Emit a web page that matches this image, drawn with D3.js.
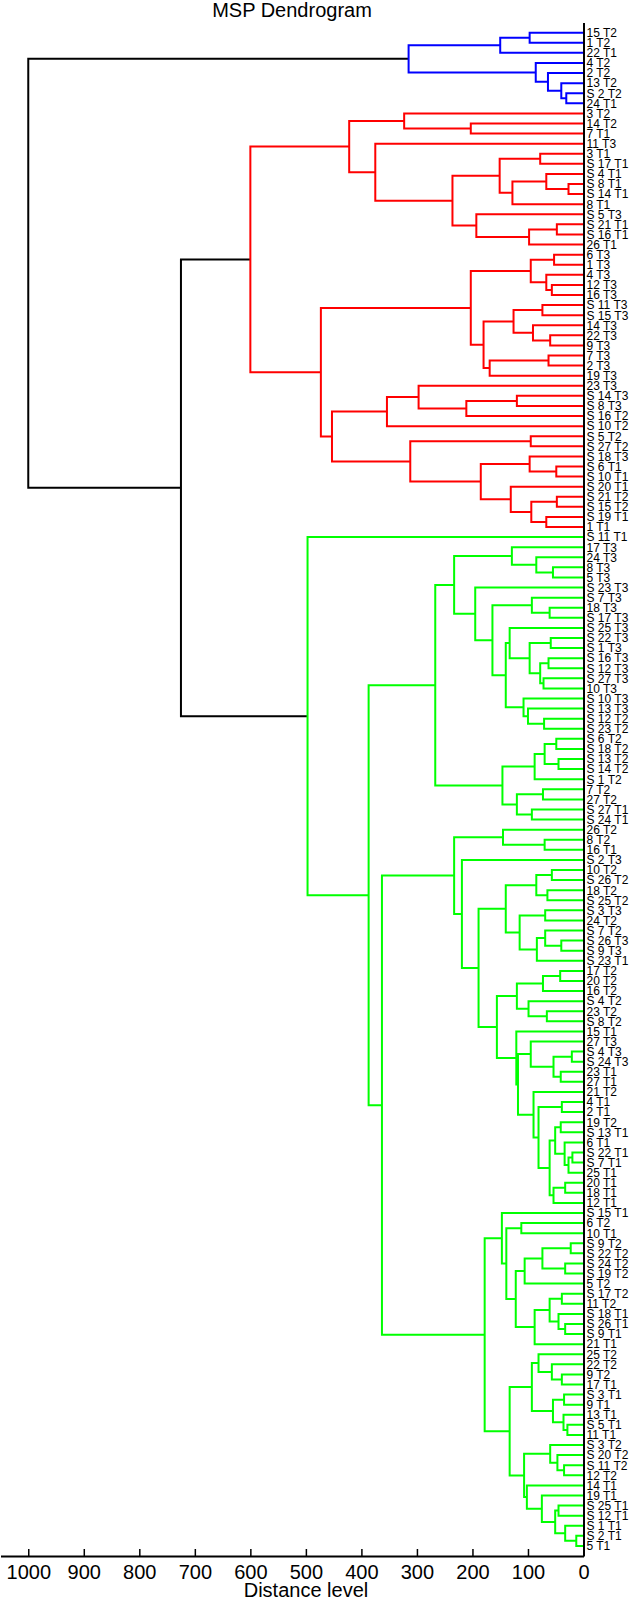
<!DOCTYPE html>
<html>
<head>
<meta charset="utf-8">
<script src="https://cdn.jsdelivr.net/npm/d3@7"></script>
<style>
body { margin: 0; background: #fff; }
svg { display: block; font-family: Arial, "Liberation Sans", sans-serif; }
</style>
</head>
<body>
<svg id="chart" width="631" height="1600"></svg>
<script>
// every merge is [left, right, distance]; a leaf is just its label
var blueTree = [[["15 T2", "1 T2", 97], "22 T1", 150],
    ["4 T2", ["2 T2", ["13 T2", ["S 2 T2", "24 T1", 31], 40], 64], 86], 315];

// red cluster
var redTop = [["3 T2", ["14 T2", "7 T1", 203], 323],
    ["11 T3", [
        [["3 T1", "S 17 T1", 78], [["S 4 T1", ["S 8 T1", "S 14 T1", 27], 67], "8 T1", 128], 151],
        ["S 5 T3", [["S 21 T1", "S 16 T1", 48], "26 T1", 98], 193], 236], 375], 422];
var redT3 = [[["6 T3", "1 T3", 53], ["4 T3", ["12 T3", "16 T3", 57], 67], 95],
    [[["S 11 T3", "S 15 T3", 74], ["14 T3", ["22 T3", "9 T3", 60], 91], 126],
     [["7 T3", "2 T3", 63], "19 T3", 169], 180], 203];
var redLow = [[["23 T3", [["S 14 T3", "S 8 T3", 120], "S 16 T2", 211], 297], "S 10 T2", 354],
    [["S 5 T2", "S 27 T2", 95],
     [["S 18 T3", ["S 6 T1", "S 10 T1", 49], 97],
      ["S 20 T1", [["S 21 T2", "S 15 T2", 48], ["S 19 T1", "1 T1", 67], 94], 131], 185], 312], 453];
var redTree = [redTop, [redT3, redLow, 473], 600];

// green cluster
var greenT3 = [["17 T3", ["24 T3", ["8 T3", "5 T3", 55], 85], 129],
    ["S 23 T3", [["S 7 T3", ["18 T3", "S 17 T3", 61], 93],
        [["S 25 T3", [["S 22 T3", "S 1 T3", 59], [["S 16 T3", "S 12 T3", 63], ["S 27 T3", "10 T3", 72], 78], 97], 133],
         ["S 10 T3", ["S 13 T3", ["S 12 T2", "S 23 T2", 71], 100], 108], 140], 164], 195], 233];
var greenT2 = [[[["S 6 T2", "S 18 T2", 49], ["S 13 T2", "S 14 T2", 45], 70], "S 1 T2", 88],
    [["7 T2", "27 T2", 73], ["S 27 T1", "S 24 T1", 93], 120], 146];
var greenMid = [["26 T2", ["8 T2", "16 T1", 70], 145],
    ["S 2 T3", [
        [[["10 T2", "S 26 T2", 57], ["18 T2", "S 25 T2", 65], 85],
         [["S 3 T3", "24 T2", 69], [["S 7 T2", ["S 26 T3", "S 9 T3", 40], 69], "S 23 T1", 84], 115], 140],
        [[[["17 T2", "20 T2", 42], "16 T2", 73], ["S 4 T2", ["23 T2", "S 8 T2", 66], 99], 120],
         ["15 T1", [["27 T3", [["S 4 T3", "S 24 T3", 21], ["23 T1", "27 T1", 41], 54], 95],
             ["21 T2", [["4 T1", "2 T1", 39],
                 [[["19 T2", "S 13 T1", 41], ["6 T1", [["S 22 T1", "S 7 T1", 20], "25 T1", 27], 34], 51],
                  [["20 T1", "18 T1", 33], "12 T1", 54], 61], 81], 90], 118], 121], 156], 189], 219], 233];
var greenT1a = ["S 15 T1", [["6 T2", "10 T1", 112],
    [[[["S 9 T2", "S 22 T2", 23], ["S 24 T2", "S 19 T2", 33], 74], "5 T2", 106],
     [[["S 17 T2", "11 T2", 39], ["S 18 T1", ["S 26 T1", "S 9 T1", 33], 45], 61], "21 T1", 88], 122], 139], 147];
var greenT1b = [[["25 T2", ["22 T2", ["9 T2", "17 T1", 39], 57], 81],
     [["S 3 T1", "9 T1", 35], ["13 T1", ["S 5 T1", "11 T1", 29], 36], 55], 93],
    [["S 3 T2", ["S 20 T2", ["S 11 T2", "12 T2", 35], 47], 60],
     ["14 T1", ["19 T1", [["S 25 T1", "S 12 T1", 45], ["S 1 T1", ["S 2 T1", "5 T1", 13], 33], 51], 75], 102], 107], 133];
var greenTree = ["S 11 T1", [[greenT3, greenT2, 267], [greenMid, [greenT1a, greenT1b, 178], 363], 387], 497];

var fullTree = [blueTree, [redTree, greenTree, 725], 1000];

var clusterTrees = [blueTree, redTree, greenTree];
var clusterColors = ["#0000ff", "#ff0000", "#00ff00"];
var distanceTicks = [0, 100, 200, 300, 400, 500, 600, 700, 800, 900, 1000];

var svg = d3.select("#chart");

var root = d3.hierarchy(fullTree, function (d) {
    return Array.isArray(d) ? d.slice(0, 2) : null;
});
var leaves = root.leaves();
var n = leaves.length;

var x = d3.scaleLinear().domain([0, 1050]).range([583.5, 0.5]);
var y = d3.scaleLinear().domain([0, n + 1]).range([22.6, 1556]);

leaves.forEach(function (d, i) { d.py = y(i + 1); });
root.eachAfter(function (d) {
    d.dist = Array.isArray(d.data) ? d.data[2] : 0;
    if (d.children) d.py = d3.mean(d.children, function (c) { return c.py; });
});
root.eachBefore(function (d) {
    var k = clusterTrees.indexOf(d.data);
    d.color = k >= 0 ? clusterColors[k] : (d.parent ? d.parent.color : "#000");
});

svg.append("g")
    .selectAll("path")
    .data(root.descendants().filter(function (d) { return d.children; }))
    .join("path")
    .attr("d", function (d) {
        var a = d.children[0], b = d.children[1];
        return "M" + x(a.dist) + "," + a.py + "H" + x(d.dist) + "V" + b.py + "H" + x(b.dist);
    })
    .attr("fill", "none")
    .attr("stroke", function (d) { return d.color; })
    .attr("stroke-width", 2);

// leaf labels on the right axis
var yAxis = svg.append("g")
    .attr("transform", "translate(" + x(0) + ",0)")
    .call(d3.axisRight(y)
        .tickValues(d3.range(1, n + 1))
        .tickFormat(function (i) { return leaves[i - 1].data; })
        .tickSize(0)
        .tickPadding(3));
yAxis.select(".domain").attr("stroke-width", 2);
yAxis.selectAll("text").attr("font-size", 12).attr("font-family", "Arial, 'Liberation Sans', sans-serif").attr("fill", "#000");

var xAxis = svg.append("g")
    .attr("transform", "translate(0," + y(n + 1) + ")")
    .call(d3.axisBottom(x)
        .tickValues(distanceTicks)
        .tickFormat(d3.format("d"))
        .tickSizeInner(-7)
        .tickSizeOuter(0)
        .tickPadding(9));
xAxis.select(".domain").attr("stroke-width", 2);
xAxis.selectAll(".tick line").attr("stroke-width", 1.5);
xAxis.selectAll("text").attr("font-size", 20).attr("font-family", "Arial, 'Liberation Sans', sans-serif").attr("fill", "#000");

svg.append("text")
    .attr("x", 292).attr("y", 17)
    .attr("text-anchor", "middle")
    .attr("font-size", 20)
    .text("MSP Dendrogram");

svg.append("text")
    .attr("x", 306).attr("y", 1597)
    .attr("text-anchor", "middle")
    .attr("font-size", 20)
    .text("Distance level");
</script>
</body>
</html>
